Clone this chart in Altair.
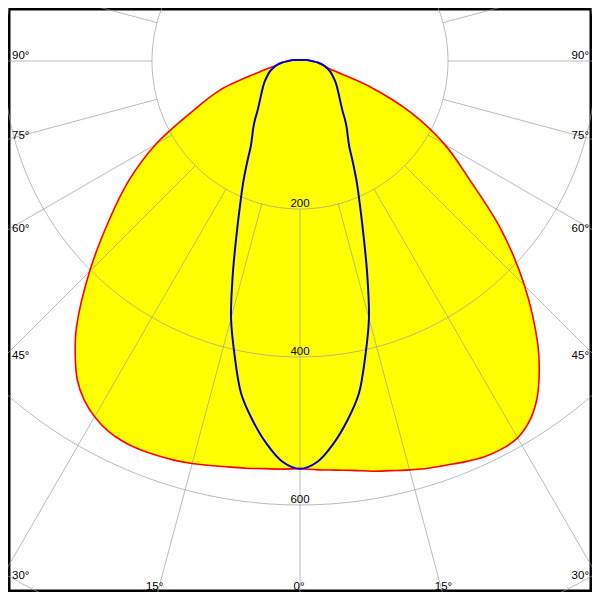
import math
import altair as alt
import pandas as pd

# ---- photometric data (cd), angle gamma measured from nadir ----
angles = [0, 2.5, 5, 7.5, 10, 12.5, 15, 17.5, 20, 22.5, 25,
          27.5, 30, 32.5, 35, 37.5, 40, 45, 50, 55, 60, 65, 70, 75, 80, 85, 90,
          95, 100, 110, 120, 135, 150, 165, 180]
c0 = [551, 553, 555, 558, 563, 567, 572, 577, 581, 586, 590,
      591, 588, 577, 558, 531, 500, 429, 355, 280, 226, 166, 98, 42, 31, 24, 16,
      12, 7.8, 4, 2.7, 1.9, 1.6, 1.4, 1.35]
c180 = [551, 552, 553, 555, 557, 560, 563, 565.5, 567, 568, 567,
        563, 555, 543, 525, 499, 470, 402, 338, 283, 225, 160, 115, 56, 32, 24, 16,
        12, 7.8, 4, 2.7, 1.9, 1.6, 1.4, 1.35]
c90 = [551, 542, 519, 490, 457, 408, 360, 302, 251, 212, 182,
       155, 133, 120, 110, 100, 90, 77, 68, 61, 55, 49, 44, 38, 32, 24, 16,
       12, 7.8, 4, 2.7, 1.9, 1.6, 1.4, 1.35]
c270 = [551, 542, 519, 490, 457, 408, 360, 302, 251, 212, 182,
        155, 133, 120, 110, 100, 90, 77, 68, 61, 55, 49, 44, 38, 32, 24, 16,
        12, 7.8, 4, 2.7, 1.9, 1.6, 1.4, 1.35]

rings = [200, 400, 600, 800]
ring_labels = ["200", "400", "600"]
spoke_angles = list(range(0, 360, 15))
left_label_angles = [90, 75, 60, 45, 30]
bottom_label_angles = [-15, 0, 15]

# ---- geometry of the drawing ----
PX = 0.74          # pixels per cd
CX, CY = 300, 61   # pole position on the page
W = H = 584
x_dom = [(8 - CX) / PX, (8 + W - CX) / PX]
y_dom = [-(8 + H - CY) / PX, -(8 - CY) / PX]
xs = alt.Scale(domain=x_dom, nice=False, zero=False)
ys = alt.Scale(domain=y_dom, nice=False, zero=False)
X = alt.X("x:Q", scale=xs, axis=None)
Y = alt.Y("y:Q", scale=ys, axis=None)


def curve_rows(left, right, name):
    rows = []
    for a, v in zip(reversed(angles), reversed(left)):
        rows.append({"curve": name, "s": -a, "I": v})
    for a, v in zip(angles[1:], right[1:]):
        rows.append({"curve": name, "s": a, "I": v})
    for k, r in enumerate(rows):
        r["k"] = k
    return rows


red = pd.DataFrame(curve_rows(c180, c0, "C0-C180"))
blue = pd.DataFrame(curve_rows(c270, c90, "C90-C270"))


def to_xy(ch):
    return ch.transform_calculate(
        x="datum.I * sin(datum.s * PI / 180)",
        y="-datum.I * cos(datum.s * PI / 180)",
    )


fill = to_xy(alt.Chart(red).mark_line(
    fill="#ffff00", strokeOpacity=0, interpolate="catmull-rom"
)).encode(x=X, y=Y, order="k:Q")

# grid circles
ring_rows = []
for r in rings:
    for k, a in enumerate(range(0, 361, 2)):
        ring_rows.append({"ring": r, "s": a, "I": r, "k": k})
ring_df = pd.DataFrame(ring_rows)
grid_rings = to_xy(alt.Chart(ring_df).mark_line(
    color="#9c9c9c", opacity=0.7, strokeWidth=1, clip=True
)).encode(x=X, y=Y, detail="ring:N", order="k:Q")

# grid spokes
spoke_rows = []
for a in spoke_angles:
    spoke_rows.append({"spoke": a, "s": a, "I": 200, "k": 0})
    spoke_rows.append({"spoke": a, "s": a, "I": 1400, "k": 1})
spoke_df = pd.DataFrame(spoke_rows)
grid_spokes = to_xy(alt.Chart(spoke_df).mark_line(
    color="#9c9c9c", opacity=0.7, strokeWidth=1, clip=True
)).encode(x=X, y=Y, detail="spoke:N", order="k:Q")

red_line = to_xy(alt.Chart(red).mark_line(
    color="#ff0000", strokeWidth=1.6, interpolate="catmull-rom"
)).encode(x=X, y=Y, order="k:Q")

blue_line = to_xy(alt.Chart(blue).mark_line(
    color="#0000dd", strokeWidth=2, interpolate="catmull-rom"
)).encode(x=X, y=Y, order="k:Q")

# angle labels
edge = CX / PX
lab_left, lab_right = [], []
for a in left_label_angles:
    t = math.radians(a)
    yv = -edge * math.cos(t) / math.sin(t)
    lab_left.append({"x": (12 - CX) / PX, "y": yv, "t": f"{a}°"})
    lab_right.append({"x": (589 - CX) / PX, "y": yv, "t": f"{a}°"})
lab_bottom = []
for a in bottom_label_angles:
    t = math.radians(a)
    lab_bottom.append({"x": (600 - CY) / PX * math.tan(t),
                       "y": -(590 - CY) / PX, "t": f"{abs(a)}°"})
lab_ring = [{"x": 0, "y": -float(v), "t": v} for v in ring_labels]

font = dict(font="Liberation Sans", fontSize=11.5, color="black")
t_left = alt.Chart(pd.DataFrame(lab_left)).mark_text(
    align="left", baseline="alphabetic", dy=-2, **font
).encode(x=X, y=Y, text="t:N")
t_right = alt.Chart(pd.DataFrame(lab_right)).mark_text(
    align="right", baseline="alphabetic", dy=-2, **font
).encode(x=X, y=Y, text="t:N")
t_bottom = alt.Chart(pd.DataFrame(lab_bottom)).mark_text(
    align="center", baseline="alphabetic", dx=-1, **font
).encode(x=X, y=Y, text="t:N")
t_ring = alt.Chart(pd.DataFrame(lab_ring)).mark_text(
    align="center", baseline="alphabetic", dy=-2, **font
).encode(x=X, y=Y, text="t:N")

chart = alt.layer(
    fill, grid_rings, grid_spokes, red_line, blue_line,
    t_left, t_right, t_bottom, t_ring
).properties(
    width=W, height=H, padding=0,
    autosize=alt.AutoSizeParams(type="none"),
    background="white",
).configure_view(stroke="black", strokeWidth=5)

chart.save("out.html", embed_options={"renderer": "svg", "actions": False})
